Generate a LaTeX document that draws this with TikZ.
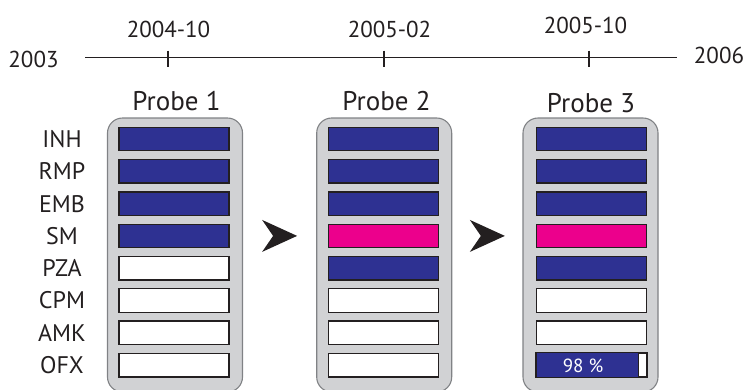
\documentclass[tikz,border=0pt]{standalone}
\usepackage{fontspec}
\setmainfont{PT Sans}
\usetikzlibrary{calc}
\definecolor{ink}{HTML}{231F20}
\definecolor{barblue}{HTML}{2E3192}
\definecolor{barpink}{HTML}{EC008C}
\definecolor{panelgray}{HTML}{D1D2D4}
\definecolor{panelline}{HTML}{808285}
\tikzset{
  lbl/.style={text=ink, font=\fontsize{23}{26}\selectfont, inner sep=0pt},
  rowlbl/.style={text=ink, font=\fontsize{24}{27}\selectfont, inner sep=0pt},
  probelbl/.style={text=ink, font=\fontsize{27}{30}\selectfont, inner sep=0pt},
  panel/.style={draw=panelline, line width=1.1pt, fill=panelgray, rounded corners=15pt,
    minimum width=135pt, minimum height=274pt, inner sep=0pt},
  bar/.style={draw=ink, line width=1.3pt, minimum width=110pt, minimum height=23.5pt, inner sep=0pt},
  blue/.style={bar, fill=barblue},
  pink/.style={bar, fill=barpink},
  empty/.style={bar, fill=white},
  tick/.style={draw=ink, line width=2pt},
  axis/.style={draw=ink, line width=1.2pt},
  chevron/.style={fill=ink},
}
\begin{document}
\begin{tikzpicture}[x=1pt,y=-1pt]
\useasboundingbox (0,0) rectangle (747,389);
\clip (0,0) rectangle (747,389);
% timeline
\coordinate (tl) at (85,57.5);
\coordinate (tr) at (677,57.5);
\draw[axis] (tl) -- (tr);
\foreach \x/\n in {168/a,384/b,589/c}{
  \coordinate (t\n top) at (\x,50.5);
  \coordinate (t\n bot) at (\x,66.5);
  \draw[tick] (t\n top) -- (t\n bot);
}
\node[lbl] (y2003) at (33.5,59.5) {2003};
\node[lbl] (y2006) at (719,55.5) {2006};
\node[lbl] (d1) at (168.5,29.5) {2004-10};
\node[lbl] (d2) at (389.5,29) {2005-02};
\node[lbl] (d3) at (585.5,25.5) {2005-10};
% panels
\node[panel] (p1) at (175,255) {};
\node[panel] (p2) at (384.2,255) {};
\node[panel] (p3) at (590.5,255) {};
\node[probelbl] (h1) at (176.5,101) {Probe 1};
\node[probelbl] (h2) at (386.5,101) {Probe 2};
\node[probelbl] (h3) at (591,103) {Probe 3};
% row labels
\foreach \t [count=\i from 0] in {INH,RMP,EMB,SM,PZA,CPM,AMK,OFX}{
  \node[rowlbl] (r\i) at (62,{139+32.3*\i}) {\t};
}
% bars
\foreach \s [count=\i from 0] in {blue,blue,blue,blue,empty,empty,empty,empty}{
  \node[\s] (a\i) at (174,{139+32.3*\i}) {};
}
\foreach \s [count=\i from 0] in {blue,blue,blue,pink,blue,empty,empty,empty}{
  \node[\s] (b\i) at (383.5,{139+32.3*\i}) {};
}
\foreach \s [count=\i from 0] in {blue,blue,blue,pink,blue,empty,empty,empty}{
  \node[\s] (c\i) at (591.5,{139+32.3*\i}) {};
}
% partial bar
\coordinate (cfill) at ($(c7.south west)!0.92!(c7.south east)$);
\fill[barblue] (c7.north west) rectangle (cfill);
\draw[ink, line width=1.3pt] (c7.north west) rectangle (c7.south east);
\draw[ink, line width=1.3pt] (cfill) -- (cfill |- c7.north);
\node[text=white, font=\fontsize{19}{21}\selectfont, inner sep=0pt] (pct) at (583,366) {98 \%};
% chevrons
\coordinate (m1) at ($(p1.east)!0.5!(p2.west)$);
\coordinate (m2) at ($(p2.east)!0.5!(p3.west)$);
\foreach \m in {m1,m2}{
  \fill[chevron] ($(\m |- b3)+(-17.5,-16)$) -- ($(\m |- b3)+(17.5,0)$) -- ($(\m |- b3)+(-17.5,16)$) -- ($(\m |- b3)+(-6.5,0)$) -- cycle;
}
\end{tikzpicture}
\end{document}
